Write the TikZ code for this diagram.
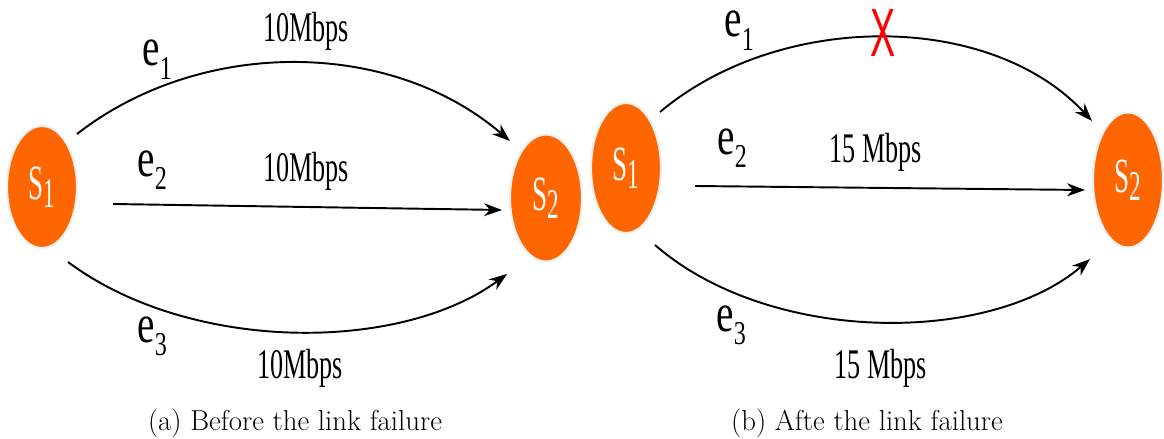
\documentclass[tikz,border=0pt]{standalone}
\usepackage{fontspec}
\usetikzlibrary{arrows.meta,shapes.geometric}
\newfontfamily\libserif{Liberation Serif}
\newfontfamily\libsans{Liberation Sans}
\definecolor{nodeorange}{RGB}{255,102,0}
\newcommand{\elab}[1]{\scalebox{0.72}[1]{\libserif\fontsize{31}{31}\selectfont e\raisebox{-7.5pt}{\fontsize{19}{19}\selectfont #1}}}
\newcommand{\rate}[1]{\scalebox{0.62}[1]{\libserif\fontsize{24}{24}\selectfont #1}}
\newcommand{\snode}[1]{\scalebox{0.55}[1]{\libserif\fontsize{28}{28}\selectfont S\raisebox{-4.5pt}{\fontsize{24}{24}\selectfont #1}}}
\tikzset{
  sw/.style={ellipse, fill=nodeorange, draw=black!6, line width=1.2pt, text=white, inner sep=0pt},
  link/.style={line width=1.1pt, -{Stealth[length=0.36cm,width=0.26cm]}},
  lab/.style={anchor=base west, inner sep=0pt},
  ratelab/.style={anchor=base, inner sep=0pt},
  subcap/.style={anchor=base, inner sep=0pt, font=\fontsize{16.4}{18}\selectfont},
}
\begin{document}
\begin{tikzpicture}[x=0.02cm,y=-0.02cm]
\useasboundingbox (0,0) rectangle (1164,439);
% ---------- (a) ----------
\node[sw, minimum width=1.4cm, minimum height=2.44cm] (a1) at (42,187) {\snode{1}};
\node[sw, minimum width=1.44cm, minimum height=2.54cm] (a2) at (546,198) {\snode{2}};
\coordinate (a1e1) at (77,134);
\coordinate (a2e1) at (510,141);
\coordinate (a1e2) at (113,204);
\coordinate (a2e2) at (502,210);
\coordinate (a1e3) at (68,262);
\coordinate (a2e3) at (507,274);
\draw[link] (a1e1) .. controls (200,38) and (390,38) .. (a2e1);
\draw[link] (a1e2) -- (a2e2);
\draw[link] (a1e3) .. controls (190,353) and (400,353) .. (a2e3);
\node[lab] (ae1) at (142,66) {\elab{1}};
\node[lab] (ae2) at (137,176) {\elab{2}};
\node[lab] (ae3) at (137,342) {\elab{3}};
\node[ratelab] (ar1) at (306,42) {\rate{10Mbps}};
\node[ratelab] (ar2) at (306,182) {\rate{10Mbps}};
\node[ratelab] (ar3) at (300,378) {\rate{10Mbps}};
\node[subcap] (capa) at (295,430) {(a) Before the link failure};
% ---------- (b) ----------
\node[sw, minimum width=1.4cm, minimum height=2.6cm] (b1) at (626,168) {\snode{1}};
\node[sw, minimum width=1.4cm, minimum height=2.7cm] (b2) at (1128,180) {\snode{2}};
\coordinate (b1e1) at (660,112);
\coordinate (b2e1) at (1092,121);
\coordinate (b1e2) at (695,186);
\coordinate (b2e2) at (1085,190);
\coordinate (b1e3) at (655,245);
\coordinate (b2e3) at (1090,259);
\draw[link] (b1e1) .. controls (780,11) and (990,11) .. (b2e1);
\draw[link] (b1e2) -- (b2e2);
\draw[link] (b1e3) .. controls (770,345) and (990,345) .. (b2e3);
\node[text=red, inner sep=0pt] (cross) at (883,33) {\scalebox{0.58}[1.05]{\libsans\fontsize{37}{37}\selectfont X}};
\node[lab] (be1) at (724,37) {\elab{1}};
\node[lab] (be2) at (717,154) {\elab{2}};
\node[lab] (be3) at (716,331) {\elab{3}};
\node[ratelab] (br2) at (876,163) {\rate{15 Mbps}};
\node[ratelab] (br3) at (881,378) {\rate{15 Mbps}};
\node[subcap] (capb) at (867,430) {(b) Afte the link failure};
\end{tikzpicture}
\end{document}
